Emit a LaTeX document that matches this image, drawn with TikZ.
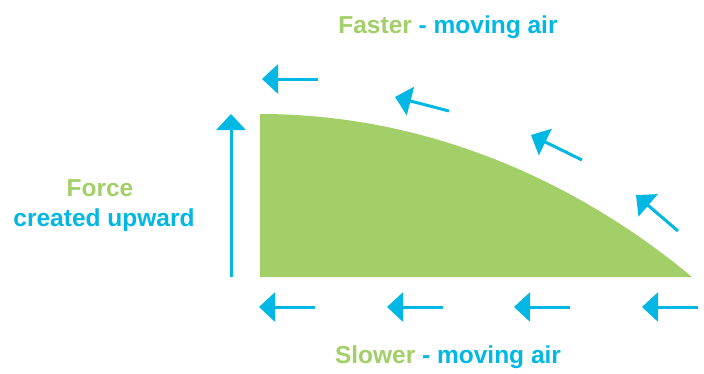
\documentclass[tikz,border=0pt]{standalone}
\usepackage{fontspec}
\setmainfont{Liberation Sans}
\usetikzlibrary{arrows.meta}
\definecolor{leaf}{HTML}{A2CF68}
\definecolor{sky}{HTML}{00B8E3}

\begin{document}
\begin{tikzpicture}[x=1pt,y=-1pt,
	flow/.style={draw=sky,line width=3pt,-{Triangle[length=16pt,width=29pt]}},
	lbl/.style={font=\bfseries\fontsize{24.5}{28}\selectfont,text=sky,inner sep=0pt}]
		\useasboundingbox (0,0) rectangle (704,373);
		% wing
		\fill[leaf] (260,114) .. controls (450,114) and (600,200) .. (692,277) -- (260,277) -- cycle;
		% labels
		\node (fast) [lbl] at (448,27) {\textcolor{leaf}{Faster} - moving air};
		\node (slow) [lbl] at (448,357) {\textcolor{leaf}{Slower} - moving air};
		\node (force) [lbl,text=leaf] at (100,188) {Force};
		\node (upward) [lbl] at (104,220) {created upward};
		% lift
		\coordinate (l0) at (231,277);
		\coordinate (l1) at (231,114);
		\draw[flow] (l0) -- (l1);
		% faster air over the top
		\coordinate (f1) at (318,79);  \coordinate (t1) at (262,79);
		\coordinate (f2) at (449,111); \coordinate (t2) at (395,97);
		\coordinate (f3) at (582,160); \coordinate (t3) at (531,135);
		\coordinate (f4) at (678,231); \coordinate (t4) at (636,195);
		\foreach \i in {1,...,4}
			\draw[flow] (f\i) -- (t\i);
		% slower air underneath
		\foreach \i/\x in {1/259,2/387,3/514,4/642} {
			\coordinate (s\i) at (\x+56,307);
			\coordinate (b\i) at (\x,307);
			\draw[flow] (s\i) -- (b\i);
		}
\end{tikzpicture}
\end{document}
